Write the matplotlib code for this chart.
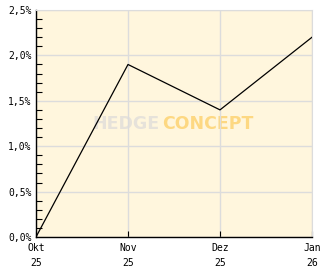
import matplotlib
matplotlib.use("Agg")
import matplotlib.pyplot as plt
from matplotlib.ticker import MultipleLocator, FuncFormatter

# monthly values (percent)
months = ["Okt\n25", "Nov\n25", "Dez\n25", "Jan\n26"]
values = [0.0, 1.9, 1.4, 2.2]

W, H = 332, 269
fig = plt.figure(figsize=(W / 100, H / 100), dpi=100)
fig.patch.set_facecolor("white")

left, right, top, bottom = 36, 312, 10, 237
ax = fig.add_axes([left / W, 1 - bottom / H, (right - left) / W, (bottom - top) / H])
ax.set_facecolor("#fff6dd")

x = list(range(len(months)))
ax.plot(x, values, color="black", lw=0.9, zorder=3)

ax.set_xlim(0, len(months) - 1)
ax.set_ylim(0, 2.5)
ax.set_xticks(x)
ax.set_xticklabels(months, fontsize=7, family="DejaVu Sans Mono", linespacing=1.7)
ax.yaxis.set_major_locator(MultipleLocator(0.5))
ax.yaxis.set_minor_locator(MultipleLocator(0.1))
ax.yaxis.set_major_formatter(FuncFormatter(lambda v, p: ("%.1f%%" % v).replace(".", ",")))
for lbl in ax.get_yticklabels():
    lbl.set_fontsize(7)
    lbl.set_family("DejaVu Sans Mono")

ax.tick_params(axis="both", which="both", direction="in", color="black")
ax.tick_params(axis="y", which="major", length=0, pad=3)
ax.tick_params(axis="y", which="minor", length=4, width=0.8)
ax.tick_params(axis="x", which="major", length=4, width=0.8, pad=4)

ax.grid(True, which="major", color="#dcdcdc", lw=1, zorder=0)
for s in ["top", "right"]:
    ax.spines[s].set_color("#dcdcdc")
for s in ["left", "bottom"]:
    ax.spines[s].set_color("black")
    ax.spines[s].set_linewidth(1)

# watermark
wm = dict(transform=ax.transAxes, va="center", fontsize=12.5, fontweight="bold",
          family="DejaVu Sans Condensed", zorder=1)
ax.text(0.448, 0.498, "HEDGE", ha="right", color="#e6e2da", **wm)
ax.text(0.458, 0.498, "CONCEPT", ha="left", color="#fdd882", **wm)

fig.savefig("out.png", dpi=100, facecolor="white")
